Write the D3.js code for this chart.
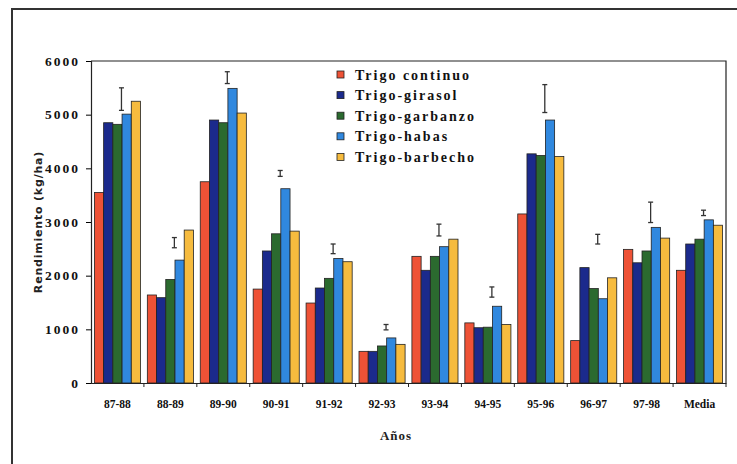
<!DOCTYPE html>
<html>
<head>
<meta charset="utf-8">
<script src="https://cdn.jsdelivr.net/npm/d3@7"></script>
<style>
	body { margin:0; background:#fff; }
	svg { display:block; }
</style>
</head>
<body>
<svg id="chart"></svg>
<script>
/*************** data *****************/
var years = ["87-88","88-89","89-90","90-91","91-92","92-93","93-94","94-95","95-96","96-97","97-98","Media"];
var seriesNames = ["Trigo continuo","Trigo-girasol","Trigo-garbanzo","Trigo-habas","Trigo-barbecho"];
var trigoContinuo = [3550,1640,3750,1750,1490,590,2360,1120,3150,790,2490,2100];
var trigoGirasol  = [4850,1590,4900,2460,1770,590,2100,1030,4270,2150,2240,2590];
var trigoGarbanzo = [4820,1930,4850,2780,1950,690,2360,1040,4240,1760,2460,2680];
var trigoHabas    = [5010,2290,5490,3620,2320,840,2540,1430,4900,1570,2900,3040];
var trigoBarbecho = [5250,2850,5030,2830,2260,720,2680,1090,4220,1960,2700,2940];
// LSD bars (low / high)
var lsdLow  = [5080,2520,5580,3850,2410,990,2740,1600,5040,2590,2990,3120];
var lsdHigh = [5500,2710,5800,3960,2590,1090,2960,1790,5560,2770,3370,3220];
var yTicks = [0,1000,2000,3000,4000,5000,6000];
/*************** end data *****************/

var width = 737, height = 464,
	margin = {top:61, right:11, bottom:81, left:91},
	serif = "'Liberation Serif', 'Times New Roman', serif",
	colors = ["#ee5236","#1b2a8c","#2b6a2f","#3088df","#f6bb3e"];

var values = [trigoContinuo, trigoGirasol, trigoGarbanzo, trigoHabas, trigoBarbecho];

var svg = d3.select("#chart")
	.attr("width", width)
	.attr("height", height);

// outer frame (scanned page border)
svg.append("path")
	.attr("d", "M12,464 L12,9 L737,9")
	.attr("fill", "none")
	.attr("stroke", "#333")
	.attr("stroke-width", 2);

var innerWidth = width - margin.left - margin.right;
var innerHeight = height - margin.top - margin.bottom;

var g = svg.append("g")
	.attr("transform", "translate(" + margin.left + "," + margin.top + ")");

/*********** scales ***********/
var x0 = d3.scaleBand().domain(years).range([0, innerWidth]).padding(0);
var x1 = d3.scaleBand().domain(seriesNames).range([0, x0.bandwidth()]).paddingInner(0).paddingOuter(0.37);
var y = d3.scaleLinear().domain([0, 6000]).range([innerHeight, 0]);
var z = d3.scaleOrdinal().domain(seriesNames).range(colors);

// plot box (top and right)
g.append("path")
	.attr("d", "M0,0 L" + innerWidth + ",0 L" + innerWidth + "," + innerHeight)
	.attr("fill", "none")
	.attr("stroke", "#222")
	.attr("stroke-width", 1.2);

/*********** bars ***********/
var groups = g.selectAll("g.year")
	.data(years)
	.enter().append("g")
	.attr("class", "year")
	.attr("transform", function(d) { return "translate(" + x0(d) + ",0)"; });

groups.selectAll("rect")
	.data(function(d, i) { return seriesNames.map(function(s, k) { return {s:s, v:values[k][i]}; }); })
	.enter().append("rect")
	.attr("x", function(d) { return x1(d.s); })
	.attr("y", function(d) { return y(d.v); })
	.attr("width", x1.bandwidth())
	.attr("height", function(d) { return innerHeight - y(d.v); })
	.attr("fill", function(d) { return z(d.s); })
	.attr("stroke", "#222")
	.attr("stroke-width", 0.8);

/*********** LSD bars ***********/
var lsd = g.selectAll("g.lsd")
	.data(years)
	.enter().append("g")
	.attr("class", "lsd")
	.attr("stroke", "#333")
	.attr("stroke-width", 1.3);

lsd.append("line")
	.attr("x1", function(d) { return x0(d) + x0.bandwidth() / 2 + 4; })
	.attr("x2", function(d) { return x0(d) + x0.bandwidth() / 2 + 4; })
	.attr("y1", function(d, i) { return y(lsdLow[i]); })
	.attr("y2", function(d, i) { return y(lsdHigh[i]); });
[lsdLow, lsdHigh].forEach(function(arr) {
	lsd.append("line")
		.attr("x1", function(d) { return x0(d) + x0.bandwidth() / 2 + 1.5; })
		.attr("x2", function(d) { return x0(d) + x0.bandwidth() / 2 + 6.5; })
		.attr("y1", function(d, i) { return y(arr[i]); })
		.attr("y2", function(d, i) { return y(arr[i]); });
});

/*********** axes ***********/
var yAxis = g.append("g")
	.call(d3.axisLeft(y).tickValues(yTicks).tickFormat(d3.format("d")).tickSize(5).tickPadding(6));
yAxis.attr("font-family", serif).attr("font-weight", "bold");
yAxis.select(".domain").attr("stroke", "#222").attr("stroke-width", 1.2);
yAxis.selectAll(".tick text")
	.style("font-size", "13.5px")
	.style("letter-spacing", "2px")
	.attr("fill", "#111");

var xAxis = g.append("g")
	.attr("transform", "translate(0," + innerHeight + ")")
	.call(d3.axisBottom(x0).tickSize(0).tickPadding(17));
xAxis.attr("font-family", serif).attr("font-weight", "bold");
xAxis.select(".domain").attr("stroke", "#222").attr("stroke-width", 1.2);
xAxis.selectAll(".tick text").style("font-size", "11.5px").attr("fill", "#111");

// boundary ticks between categories
xAxis.selectAll("line.sep")
	.data(years.slice(1).concat(["end"]))
	.enter().append("line")
	.attr("class", "sep")
	.attr("x1", function(d, i) { return x0.step() * (i + 1); })
	.attr("x2", function(d, i) { return x0.step() * (i + 1); })
	.attr("y1", 0).attr("y2", 4)
	.attr("stroke", "#222");

/*********** axis titles ***********/
svg.append("text")
	.attr("transform", "translate(42,222) rotate(-90)")
	.attr("text-anchor", "middle")
	.style("font-family", "'DejaVu Sans', sans-serif")
	.style("font-weight", "bold")
	.style("font-size", "11px")
	.style("letter-spacing", "0.8px")
	.attr("fill", "#222")
	.text("Rendimiento (kg/ha)");

svg.append("text")
	.attr("x", 396).attr("y", 440)
	.attr("text-anchor", "middle")
	.style("font-family", serif)
	.style("font-weight", "bold")
	.style("font-size", "13px")
	.style("letter-spacing", "1px")
	.attr("fill", "#222")
	.text("Años");

/*********** legend ***********/
var legend = svg.append("g").attr("transform", "translate(337,68)");
var items = legend.selectAll("g")
	.data(seriesNames)
	.enter().append("g")
	.attr("transform", function(d, i) { return "translate(0," + i * 20.6 + ")"; });
items.append("rect")
	.attr("width", 7).attr("height", 7).attr("y", 3)
	.attr("fill", function(d) { return z(d); })
	.attr("stroke", "#222").attr("stroke-width", 0.8);
items.append("text")
	.attr("x", 18).attr("y", 11.5)
	.style("font-family", serif)
	.style("font-weight", "bold")
	.style("font-size", "14px")
	.style("letter-spacing", "2px")
	.attr("fill", "#111")
	.text(function(d) { return d; });
</script>
</body>
</html>
